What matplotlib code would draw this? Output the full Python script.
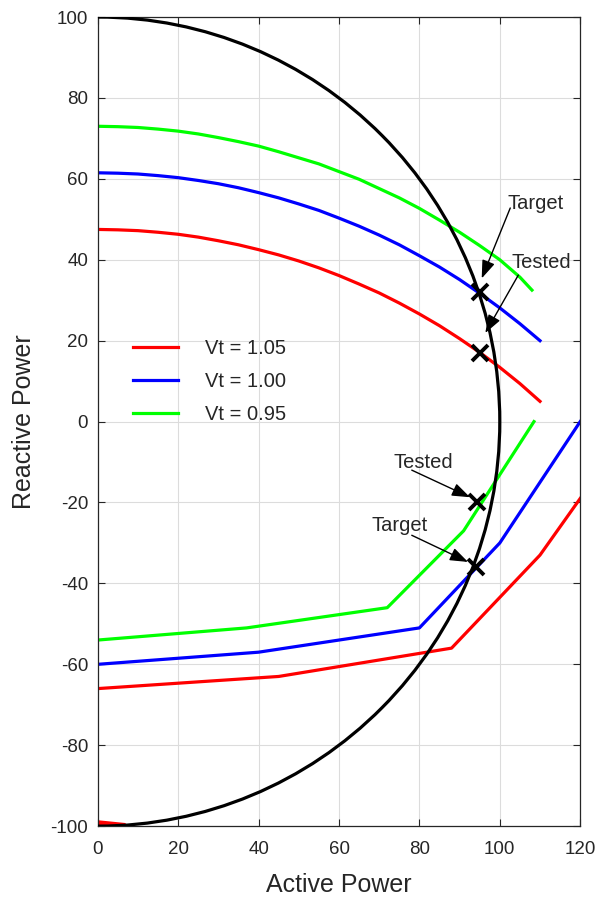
import matplotlib
matplotlib.use('Agg')
import matplotlib.pyplot as plt
from matplotlib.patches import Arc

plt.rcParams['font.family'] = ['Liberation Sans', 'DejaVu Sans']
plt.rcParams['axes.unicode_minus'] = False

# capability limit (circle radius)
LIMIT_RADIUS = 100

# upper (over-excited) curves
upper_x = [0, 5, 10, 15, 20, 25, 30, 35, 40, 45, 50, 55, 60, 65, 70, 75, 80, 85, 90, 95, 100, 105, 110]
red_upper = [47.5, 47.4, 47.2, 46.8, 46.3, 45.6, 44.7, 43.7, 42.5, 41.2, 39.7, 38.0, 36.1,
             34.0, 31.8, 29.3, 26.6, 23.7, 20.5, 17.1, 13.4, 9.4, 5.0]
blue_upper = [61.5, 61.4, 61.2, 60.8, 60.3, 59.6, 58.8, 57.8, 56.6, 55.3, 53.8, 52.2, 50.3,
              48.3, 46.1, 43.7, 41.0, 38.2, 35.1, 31.7, 28.1, 24.2, 20.0]
green_upper_x = [0, 5, 10, 15, 20, 25, 30, 35, 40, 45, 50, 55, 60, 65, 70, 75, 80, 85, 90, 95, 100, 105, 108]
green_upper = [73.0, 72.9, 72.7, 72.3, 71.8, 71.1, 70.2, 69.2, 68.1, 66.7, 65.2, 63.7, 61.8,
               59.9, 57.6, 55.3, 52.7, 49.8, 46.8, 43.5, 40.0, 35.7, 32.5]

# lower (under-excited) curves
red_lower_x = [0, 45, 88, 110, 120]
red_lower = [-66, -63, -56, -33, -19]
blue_lower_x = [0, 40, 80, 100, 120]
blue_lower = [-60, -57, -51, -30, 0]
green_lower_x = [0, 37, 72, 91, 108.5]
green_lower = [-54, -51, -46, -27, 0]
red_stub_x = [0, 6]
red_stub = [-99.4, -100]

labels = ['Vt = 1.05', 'Vt = 1.00', 'Vt = 0.95']

# operating points and their notes
marks_x = [95, 95, 94.4, 94]
marks_y = [32, 17, -20, -36]
notes = ['Target', 'Tested', 'Tested', 'Target']
note_x = [108.8, 110.3, 80.9, 75.2]
note_y = [53.9, 39.4, -10.0, -25.6]
arrow_from = [(102.6, 52.8), (104.6, 36.2), (78.1, -12.0), (78.1, -28.1)]
arrow_to = [(95.5, 35.4), (96.4, 21.9), (92.6, -18.7), (92.1, -34.7)]

TXT = '#262626'

fig = plt.figure(figsize=(6, 8.97), dpi=100)
ax = fig.add_axes([0.163, 0.079, 0.804, 0.902])

ax.grid(True, color='#dcdcdc', lw=0.8)
ax.set_axisbelow(True)

ax.add_patch(Arc((0, 0), 2 * LIMIT_RADIUS, 2 * LIMIT_RADIUS, theta1=-90, theta2=90,
                 color='black', lw=2.3, zorder=3))

lw = 2.3
ax.plot(upper_x, red_upper, color='#ff0000', lw=lw, label=labels[0])
ax.plot(upper_x, blue_upper, color='#0000ff', lw=lw, label=labels[1])
ax.plot(green_upper_x, green_upper, color='#00ff00', lw=lw, label=labels[2])
ax.plot(red_lower_x, red_lower, color='#ff0000', lw=lw)
ax.plot(blue_lower_x, blue_lower, color='#0000ff', lw=lw)
ax.plot(green_lower_x, green_lower, color='#00ff00', lw=lw)
ax.plot(red_stub_x, red_stub, color='#ff0000', lw=5, zorder=2)

ax.plot(marks_x, marks_y, 'x', color='black', ms=12, mew=2.8, zorder=5)

for txt, tx, ty, p0, p1 in zip(notes, note_x, note_y, arrow_from, arrow_to):
    ax.text(tx, ty, txt, ha='center', va='center', fontsize=14.5, color=TXT)
    ax.annotate('', xy=p1, xytext=p0,
                arrowprops=dict(arrowstyle='-|>,head_length=0.55,head_width=0.2', color='black',
                                lw=1.0, mutation_scale=20, shrinkA=0, shrinkB=0), zorder=6)

leg = ax.legend(loc='upper left', bbox_to_anchor=(0.073, 0.602), frameon=False,
                borderpad=0, borderaxespad=0, fontsize=14.5, handlelength=2.24,
                handletextpad=1.34, labelspacing=0.7)
for t in leg.get_texts():
    t.set_color(TXT)

ax.set_xlim(0, 120)
ax.set_ylim(-100, 100)
ax.set_xticks(range(0, 121, 20))
ax.set_yticks(range(-100, 101, 20))
ax.tick_params(direction='in', top=True, right=True, labelsize=13.5, colors=TXT,
               length=5, width=0.8)
ax.tick_params(axis='x', pad=11)
ax.tick_params(axis='y', pad=7)
for s in ax.spines.values():
    s.set_color(TXT)
    s.set_linewidth(0.9)

ax.set_xlabel('Active Power', fontsize=18, color=TXT)
ax.set_ylabel('Reactive Power', fontsize=18, color=TXT)
ax.xaxis.set_label_coords(0.5, -0.058)
ax.yaxis.set_label_coords(-0.128, 0.5)

fig.savefig('out.png', dpi=100)
